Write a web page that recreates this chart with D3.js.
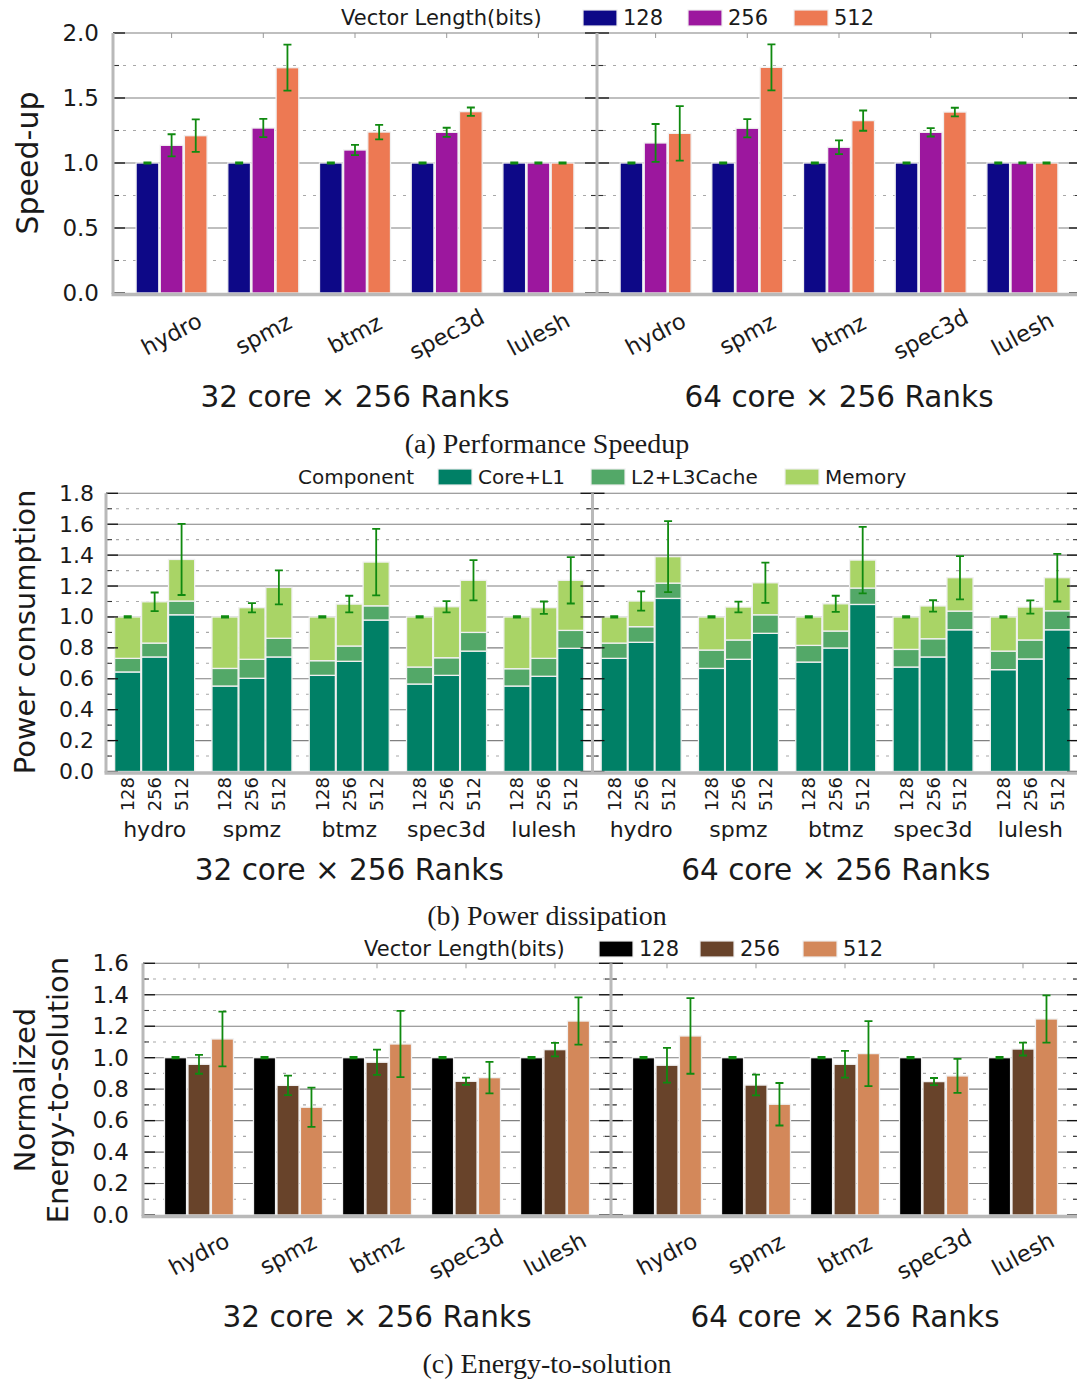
<!DOCTYPE html>
<html>
<head>
<meta charset="utf-8">
<script src="https://cdn.jsdelivr.net/npm/d3@7"></script>
<style>
  body { margin: 0; background: #fff; }
  svg { display: block; }
</style>
</head>
<body>
<script>
// ---------------- data ----------------
var benchmarks = ["hydro", "spmz", "btmz", "spec3d", "lulesh"];
var vectorLengths = ["128", "256", "512"];
var configNames = ["32 core \u00d7 256 Ranks", "64 core \u00d7 256 Ranks"];
var components = ["Core+L1", "L2+L3Cache", "Memory"];

// (a) speed-up, [benchmark][vector length]
var speedup32 = [[1.00, 1.136, 1.21], [1.00, 1.269, 1.733], [1.00, 1.10, 1.238], [1.00, 1.236, 1.395], [1.00, 1.00, 1.00]];
var speedupErr32 = [[0.005, 0.085, 0.125], [0.005, 0.07, 0.177], [0.005, 0.04, 0.056], [0.005, 0.035, 0.032], [0.005, 0.005, 0.005]];
var speedup64 = [[1.00, 1.154, 1.228], [1.00, 1.267, 1.736], [1.00, 1.121, 1.326], [1.00, 1.236, 1.392], [1.00, 1.00, 1.00]];
var speedupErr64 = [[0.005, 0.146, 0.21], [0.005, 0.07, 0.177], [0.005, 0.053, 0.078], [0.005, 0.032, 0.033], [0.005, 0.005, 0.005]];

// (b) power, stacked segments [benchmark][vector length]
var power32Core = [[0.644, 0.741, 1.014], [0.553, 0.603, 0.741], [0.622, 0.713, 0.98], [0.566, 0.622, 0.779], [0.553, 0.616, 0.797]];
var power32Cache = [[0.088, 0.090, 0.089], [0.114, 0.123, 0.121], [0.095, 0.099, 0.092], [0.110, 0.114, 0.121], [0.112, 0.116, 0.116]];
var power32Memory = [[0.268, 0.267, 0.269], [0.333, 0.334, 0.329], [0.283, 0.271, 0.283], [0.324, 0.330, 0.337], [0.335, 0.328, 0.324]];
var power32Err = [[0.005, 0.06, 0.23], [0.005, 0.03, 0.11], [0.005, 0.054, 0.215], [0.005, 0.037, 0.13], [0.005, 0.04, 0.15]];
var power64Core = [[0.732, 0.836, 1.12], [0.667, 0.726, 0.894], [0.708, 0.799, 1.081], [0.676, 0.741, 0.917], [0.659, 0.728, 0.917]];
var power64Cache = [[0.099, 0.101, 0.099], [0.119, 0.125, 0.120], [0.108, 0.110, 0.106], [0.114, 0.118, 0.121], [0.120, 0.123, 0.123]];
var power64Memory = [[0.169, 0.166, 0.171], [0.214, 0.213, 0.207], [0.184, 0.176, 0.181], [0.210, 0.212, 0.216], [0.221, 0.213, 0.214]];
var power64Err = [[0.005, 0.062, 0.23], [0.005, 0.035, 0.13], [0.005, 0.052, 0.215], [0.005, 0.037, 0.14], [0.005, 0.043, 0.154]];

// (c) energy-to-solution
var energy32 = [[1.00, 0.958, 1.119], [1.00, 0.824, 0.685], [1.00, 0.971, 1.087], [1.00, 0.85, 0.873], [1.00, 1.051, 1.233]];
var energyErr32 = [[0.005, 0.06, 0.174], [0.005, 0.062, 0.125], [0.005, 0.08, 0.21], [0.005, 0.023, 0.1], [0.005, 0.043, 0.15]];
var energy64 = [[1.00, 0.952, 1.138], [1.00, 0.826, 0.704], [1.00, 0.958, 1.026], [1.00, 0.848, 0.884], [1.00, 1.055, 1.246]];
var energyErr64 = [[0.005, 0.11, 0.24], [0.005, 0.066, 0.135], [0.005, 0.085, 0.207], [0.005, 0.023, 0.108], [0.005, 0.041, 0.15]];

var ticksA = [0, 0.5, 1.0, 1.5, 2.0];
var minorA = [0.25, 0.75, 1.25, 1.75];
var ticksB = [0, 0.2, 0.4, 0.6, 0.8, 1.0, 1.2, 1.4, 1.6, 1.8];
var minorB = [0.1, 0.3, 0.5, 0.7, 0.9, 1.1, 1.3, 1.5, 1.7];
var ticksC = [0, 0.2, 0.4, 0.6, 0.8, 1.0, 1.2, 1.4, 1.6];
var minorC = [0.1, 0.3, 0.5, 0.7, 0.9, 1.1, 1.3, 1.5];

var coloursA = ["#0d0887", "#9c179e", "#ed7953"];
var coloursB = ["#008066", "#53a868", "#a9d466"];
var coloursC = ["#000000", "#68432a", "#d3885a"];
var errColour = "#108a10";

// ---------------- drawing ----------------
var SANS = "DejaVu Sans";
var SERIF = "Liberation Serif";
var svg = d3.select("body").append("svg").attr("width", 1077).attr("height", 1381)
    .style("font-family", SANS);

//------------ grid + tick labels (behind the bars) ------------
function grille(y, xRanges, major, minor, labelX, fs){
    var g = svg.append("g");
    var xa = xRanges[0][0], xb = xRanges[xRanges.length-1][1];
    g.selectAll(null).data(minor).join("line")
        .attr("x1", xa).attr("x2", xb)
        .attr("y1", d => y(d)).attr("y2", d => y(d))
        .attr("stroke", "#a8a8a8").attr("stroke-width", 1.1).attr("stroke-dasharray", "3,7");
    g.selectAll(null).data(major.filter(d => d > 0)).join("line")
        .attr("x1", xa).attr("x2", xb)
        .attr("y1", d => y(d)).attr("y2", d => y(d))
        .attr("stroke", "#808080").attr("stroke-width", 1.1);
    var ax = g.append("g").attr("transform", "translate(" + labelX + ",0)")
        .call(d3.axisLeft(y).tickValues(major).tickFormat(d3.format(".1f")).tickSize(0).tickPadding(0));
    ax.select(".domain").remove();
    ax.selectAll("text").attr("font-size", fs).attr("font-family", SANS).attr("fill", "#1a1a1a");
}

//------------ frame lines + inner ticks (over the bars) ------------
function cadre(y, xRanges, major, minor, outers){
    var g = svg.append("g");
    var y0 = y.range()[0], y1 = y.range()[1];
    xRanges.forEach(function(r, i){
        major.forEach(function(v){
            g.append("line").attr("x1", r[0]).attr("x2", r[0]+12).attr("y1", y(v)).attr("y2", y(v)).attr("stroke", "#111").attr("stroke-width", 1.3);
            g.append("line").attr("x1", r[1]-12).attr("x2", r[1]).attr("y1", y(v)).attr("y2", y(v)).attr("stroke", "#111").attr("stroke-width", 1.3);
        });
        minor.forEach(function(v){
            g.append("line").attr("x1", r[0]).attr("x2", r[0]+6).attr("y1", y(v)).attr("y2", y(v)).attr("stroke", "#333").attr("stroke-width", 1.1);
            g.append("line").attr("x1", r[1]-6).attr("x2", r[1]).attr("y1", y(v)).attr("y2", y(v)).attr("stroke", "#333").attr("stroke-width", 1.1);
        });
        if (outers){
            outers[i].domain().forEach(function(b){
                var cx = outers[i](b) + outers[i].bandwidth()/2;
                g.append("line").attr("x1", cx).attr("x2", cx).attr("y1", y1).attr("y2", y1+5).attr("stroke", "#999").attr("stroke-width", 1);
            });
        }
    });
    var edges = [xRanges[0][0]].concat(xRanges.map(r => r[1]));
    edges.forEach(function(x){
        g.append("line").attr("x1", x).attr("x2", x).attr("y1", y1).attr("y2", y0+1)
            .attr("stroke", "#b9b9b9").attr("stroke-width", 3);
    });
    g.append("line").attr("x1", xRanges[0][0]-1.5).attr("x2", xRanges[xRanges.length-1][1])
        .attr("y1", y0+1.5).attr("y2", y0+1.5).attr("stroke", "#b9b9b9").attr("stroke-width", 3.5);
}

function barresErreur(g, pts){
    g.selectAll(null).data(pts).join("path")
        .attr("d", d => "M" + d.x + "," + d.lo + "V" + d.hi +
                        "M" + (d.x-4) + "," + d.lo + "H" + (d.x+4) +
                        "M" + (d.x-4) + "," + d.hi + "H" + (d.x+4))
        .attr("stroke", errColour).attr("stroke-width", 1.8).attr("fill", "none");
}

function legende(y, title, titleX, items){
    var g = svg.append("g");
    g.append("text").attr("x", titleX).attr("y", y).attr("dy", "0.35em")
        .attr("font-size", items.fs).attr("fill", "#1a1a1a").text(title);
    items.list.forEach(function(it){
        g.append("rect").attr("x", it.x).attr("y", y-8).attr("width", 34).attr("height", 16)
            .attr("fill", it.c).attr("stroke", "#eee").attr("stroke-width", 1.2);
        g.append("text").attr("x", it.x+40).attr("y", y).attr("dy", "0.35em")
            .attr("font-size", items.fs).attr("fill", "#1a1a1a").text(it.t);
    });
}

function libelles(texts, y, size, font){
    svg.selectAll(null).data(texts).join("text")
        .attr("x", d => d.x).attr("y", y).attr("dy", "0.35em")
        .attr("text-anchor", "middle").attr("font-size", size)
        .attr("font-family", font).attr("fill", "#1a1a1a").text(d => d.t);
}

//------------ grouped bar chart (a) and (c) ------------
function groupes(opt){
    var y = d3.scaleLinear().domain(opt.domain).range(opt.yRange);
    grille(y, opt.panels, opt.major, opt.minor, opt.labelX, opt.tickFs);
    var outers = [];
    opt.panels.forEach(function(r, p){
        var outer = d3.scaleBand().domain(benchmarks).range(r).paddingOuter(opt.padOuter).paddingInner(0);
        var inner = d3.scaleBand().domain(vectorLengths).range([0, opt.blockW]).paddingInner(opt.padInner);
        outers.push(outer);
        var vals = opt.values[p], errs = opt.errors[p];
        var g = svg.append("g");
        var cells = [];
        benchmarks.forEach(function(b, i){
            vectorLengths.forEach(function(v, j){
                var x = outer(b) + (outer.bandwidth() - opt.blockW)/2 + inner(v);
                cells.push({x: x, w: inner.bandwidth(), v: vals[i][j], e: errs[i][j], j: j});
            });
        });
        g.selectAll("rect").data(cells).join("rect")
            .attr("x", d => d.x).attr("width", d => d.w)
            .attr("y", d => y(d.v)).attr("height", d => y(0) - y(d.v))
            .attr("fill", d => opt.colours[d.j]).attr("stroke", "#f0f0f0").attr("stroke-width", 1.3);
        barresErreur(g, cells.map(d => ({x: d.x + d.w/2, lo: y(d.v - d.e), hi: y(d.v + d.e)})));
        // rotated benchmark labels
        svg.append("g").selectAll("text").data(benchmarks).join("text")
            .attr("transform", d => "translate(" + (outer(d) + outer.bandwidth()/2) + "," + opt.xLabelY + ") rotate(-28)")
            .attr("text-anchor", "middle").attr("dy", "0.35em")
            .attr("font-size", 22.5).attr("fill", "#1a1a1a").text(d => d);
    });
    cadre(y, opt.panels, opt.major, opt.minor, outers);
    libelles(opt.panels.map((r, p) => ({x: (r[0]+r[1])/2, t: configNames[p]})), opt.subY, 29.5, SANS);
    return y;
}

// ---- (a) Performance speedup ----
groupes({
    domain: [0, 2], yRange: [293, 33],
    panels: [[113, 597], [597, 1081]], padOuter: 0.139, blockW: 71, padInner: 0.06,
    major: ticksA, minor: minorA, labelX: 99, tickFs: 23,
    values: [speedup32, speedup64], errors: [speedupErr32, speedupErr64],
    colours: coloursA, xLabelY: 334, subY: 397
});
legende(18, "Vector Length(bits)", 341, {fs: 21, list: vectorLengths.map((v, i) => ({t: v, c: coloursA[i], x: [583, 688, 794][i]}))});
svg.append("text").attr("transform", "translate(27,163) rotate(-90)").attr("text-anchor", "middle")
    .attr("dy", "0.35em").attr("font-size", 30).attr("fill", "#1a1a1a").text("Speed-up");
libelles([{x: 547, t: "(a) Performance Speedup"}], 443, 28, SERIF);

// ---- (b) Power dissipation ----
(function(){
    var y = d3.scaleLinear().domain([0, 1.8]).range([771.5, 493.3]);
    var panels = [[106, 592.5], [592.5, 1079]];
    grille(y, panels, ticksB, minorB, 94, 22);
    var cores = [power32Core, power64Core], caches = [power32Cache, power64Cache],
        mems = [power32Memory, power64Memory], errs = [power32Err, power64Err];
    var keys = ["core", "cache", "memory"];
    panels.forEach(function(r, p){
        var outer = d3.scaleBand().domain(benchmarks).range(r).paddingOuter(0).paddingInner(0);
        var blockW = 80;
        var inner = d3.scaleBand().domain(vectorLengths).range([0, blockW]).paddingInner(0.03);
        var rows = [];
        benchmarks.forEach(function(b, i){
            vectorLengths.forEach(function(v, j){
                rows.push({b: b, v: v, x: outer(b) + (outer.bandwidth()-blockW)/2 + inner(v),
                           core: cores[p][i][j], cache: caches[p][i][j], memory: mems[p][i][j], err: errs[p][i][j]});
            });
        });
        var series = d3.stack().keys(keys)(rows);
        var g = svg.append("g");
        g.selectAll("g").data(series).join("g").attr("fill", (s, k) => coloursB[k])
          .selectAll("rect").data(s => s).join("rect")
            .attr("x", d => d.data.x).attr("width", inner.bandwidth())
            .attr("y", d => y(d[1])).attr("height", d => y(d[0]) - y(d[1]))
            .attr("stroke", "#f0f0f0").attr("stroke-width", 1.3);
        barresErreur(g, rows.map(function(d){
            var t = d.core + d.cache + d.memory;
            return {x: d.x + inner.bandwidth()/2, lo: y(t - d.err), hi: y(t + d.err)};
        }));
        // vector length labels
        svg.append("g").selectAll("text").data(rows).join("text")
            .attr("transform", d => "translate(" + (d.x + inner.bandwidth()/2) + ",777) rotate(-90)")
            .attr("text-anchor", "end").attr("dy", "0.36em")
            .attr("font-size", 18).attr("fill", "#1a1a1a").text(d => d.v);
        libelles(benchmarks.map(b => ({x: outer(b) + outer.bandwidth()/2, t: b})), 829, 22, SANS);
    });
    cadre(y, panels, ticksB, minorB, null);
    libelles(panels.map((r, p) => ({x: (r[0]+r[1])/2, t: configNames[p]})), 870, 29.5, SANS);
    legende(477, "Component", 298, {fs: 20, list: components.map((c, i) => ({t: c, c: coloursB[i], x: [438, 591, 785][i]}))});
    svg.append("text").attr("transform", "translate(25,632) rotate(-90)").attr("text-anchor", "middle")
        .attr("dy", "0.35em").attr("font-size", 29).attr("fill", "#1a1a1a").text("Power consumption");
    libelles([{x: 547, t: "(b) Power dissipation"}], 915, 28, SERIF);
})();

// ---- (c) Energy-to-solution ----
groupes({
    domain: [0, 1.6], yRange: [1215, 963.3],
    panels: [[143, 611], [611, 1079]], padOuter: 0.129, blockW: 69, padInner: 0.06,
    major: ticksC, minor: minorC, labelX: 129, tickFs: 23,
    values: [energy32, energy64], errors: [energyErr32, energyErr64],
    colours: coloursC, xLabelY: 1254, subY: 1317
});
legende(949, "Vector Length(bits)", 364, {fs: 21, list: vectorLengths.map((v, i) => ({t: v, c: coloursC[i], x: [599, 700, 803][i]}))});
svg.append("text").attr("transform", "translate(25,1090) rotate(-90)").attr("text-anchor", "middle")
    .attr("dy", "0.35em").attr("font-size", 29).attr("fill", "#1a1a1a").text("Normalized");
svg.append("text").attr("transform", "translate(58,1090) rotate(-90)").attr("text-anchor", "middle")
    .attr("dy", "0.35em").attr("font-size", 29).attr("fill", "#1a1a1a").text("Energy-to-solution");
libelles([{x: 547, t: "(c) Energy-to-solution"}], 1363, 28, SERIF);
</script>
</body>
</html>
